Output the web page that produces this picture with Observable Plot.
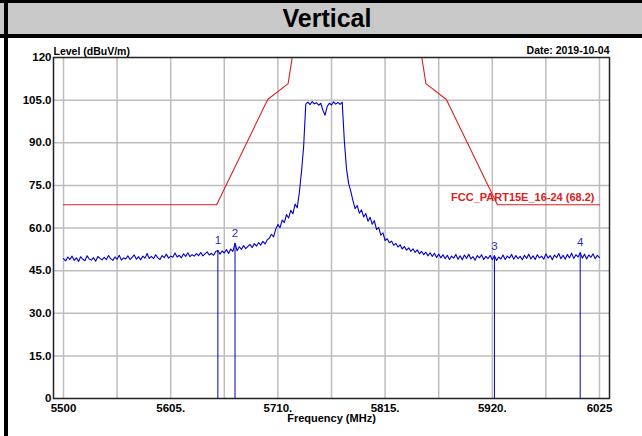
<!DOCTYPE html>
<html><head><meta charset="utf-8">
<script src="https://cdn.jsdelivr.net/npm/d3@7"></script>
<script src="https://cdn.jsdelivr.net/npm/@observablehq/plot@0.6"></script>
<style>
html,body{margin:0;padding:0;background:#fff;}
#wrap{position:relative;width:642px;height:436px;overflow:hidden;font-family:"Liberation Sans",Arial,sans-serif;}
#title{box-sizing:border-box;height:38px;border-top:3px solid #000;border-bottom:4px solid #000;background:#c8c8c8;text-align:center;font-weight:bold;font-size:25px;line-height:31px;color:#000;padding-left:12px;}
#bar{position:absolute;left:4px;top:0;width:4px;height:436px;background:#000;}
#chart svg{display:block;}
</style></head><body>
<div id="wrap"><div id="title">Vertical</div><div id="chart"></div><div id="bar"></div></div>
<script>
// Measured trace (dBuV/m), sampled every 2.1 MHz from 5500 MHz
const freqStart = 5500, freqStep = 2.1;
const level = [
49.2,48.4,49.8,48.9,50.1,48.6,49.5,48.2,49.9,49.0,
48.5,50.2,49.1,48.7,49.6,48.3,50.0,49.3,48.8,49.7,
48.9,50.3,49.2,48.6,49.8,49.0,50.4,48.7,49.5,49.1,
50.2,48.9,49.7,50.5,49.0,49.9,48.8,50.1,49.4,51.0,
49.3,50.0,49.2,50.6,49.5,48.9,50.3,49.6,50.8,49.4,
50.1,49.7,51.2,49.8,50.4,49.5,50.9,50.0,51.3,49.9,
50.6,50.1,51.0,50.3,51.4,50.2,50.9,51.6,50.5,51.1,
50.4,51.7,52.1,50.8,51.9,51.2,52.4,51.0,52.6,51.8,
54.6,52.0,53.4,52.5,53.8,52.7,53.5,54.2,53.1,54.5,
53.6,54.9,54.0,55.3,54.4,55.8,56.4,57.8,56.9,59.6,
61.2,60.1,62.8,61.9,64.7,63.5,66.2,65.0,68.4,67.1,
72.5,79.8,88.5,103.6,104.3,103.4,104.5,103.7,104.1,103.2,
103.9,101.4,99.7,102.8,103.9,103.3,104.4,103.6,104.2,103.5,
104.3,90.5,80.8,75.6,72.9,69.6,66.8,67.9,65.2,66.4,
63.9,65.1,62.4,63.8,61.3,62.6,59.4,60.2,57.5,58.3,
55.6,56.2,54.8,55.4,53.9,54.6,53.3,54.1,52.6,53.5,
52.2,53.0,51.8,52.7,51.4,52.3,50.9,51.8,50.6,51.5,
50.2,51.3,50.0,51.1,49.6,50.8,49.5,50.6,49.2,50.4,
48.9,50.1,49.4,50.7,49.0,50.2,48.8,50.5,49.3,50.8,
49.1,49.9,48.7,50.3,49.5,50.6,48.9,50.0,49.2,50.4,
48.8,50.2,48.6,49.8,49.1,50.5,48.9,50.1,49.4,50.7,
49.0,50.3,49.2,50.0,48.8,50.4,49.3,50.8,49.1,50.2,
48.9,50.6,49.5,50.1,49.0,50.9,49.4,50.3,48.8,50.5,
49.6,51.0,49.2,50.4,49.0,50.7,49.5,51.1,49.3,50.6,
49.8,51.3,49.4,50.8,49.1,50.5,49.7,50.9,49.2,50.4,
49.6
];
// Limit line FCC_PART15E_16-24
const limitFreq  = [5500, 5650, 5700, 5720, 5725, 5850, 5855, 5875, 5925, 6025];
const limitLevel = [68.2, 68.2, 105.2, 110.8, 122.2, 122.2, 110.8, 105.2, 68.2, 68.2];
const limitName = "FCC_PART15E_16-24 (68.2)";
// Markers
const markerIds   = ["1", "2", "3", "4"];
const markerFreq  = [5651.2, 5668.0, 5922.1, 6006.1];
const markerLevel = [52.1, 54.6, 50.2, 51.3];
// Axes
const xTicks = [5500, 5605, 5710, 5815, 5920, 6025];
const xTickLabels = ["5500", "5605.", "5710.", "5815.", "5920.", "6025"];
const yTicks = [0, 15, 30, 45, 60, 75, 90, 105, 120];
const yTickLabels = ["0", "15.0", "30.0", "45.0", "60.0", "75.0", "90.0", "105.0", "120"];
const gridFreqs = [5500, 5552.5, 5605, 5657.5, 5710, 5762.5, 5815, 5867.5, 5920, 5972.5, 6025];
const gridLevels = [15, 30, 45, 60, 75, 90, 105];
const yLabel = "Level (dBuV/m)";
const dateLabel = "Date: 2019-10-04";
const xLabel = "Frequency (MHz)";

const trace = level.map((v, i) => ({freq: freqStart + i * freqStep, level: v}));
const limit = limitFreq.map((f, i) => ({freq: f, level: limitLevel[i]}));
const markers = markerFreq.map((f, i) => ({id: markerIds[i], freq: f, level: markerLevel[i]}));

const font = "'Liberation Sans', Arial, sans-serif";
const blue = "#0000cc", red = "#dd2020";

const chart = Plot.plot({
  width: 642, height: 398,
  marginLeft: 53, marginRight: 33, marginTop: 19, marginBottom: 38,
  x: {domain: [5490.2, 6034.8]},
  y: {domain: [0, 120]},
  style: {fontFamily: font, background: "transparent", color: "#000"},
  marks: [
    Plot.ruleX(gridFreqs, {stroke: "#bdbdbd", strokeWidth: 1.5}),
    Plot.ruleY(gridLevels, {stroke: "#bdbdbd", strokeWidth: 1.5}),
    Plot.line(limit, {x: "freq", y: "level", stroke: red, strokeWidth: 1.1, clip: true}),
    Plot.line(trace, {x: "freq", y: "level", stroke: blue, strokeWidth: 1.1, clip: true}),
    Plot.ruleX(markers, {x: "freq", y1: 0, y2: "level", stroke: blue, strokeWidth: 1}),
    Plot.text(markers, {x: "freq", y: "level", text: "id", dy: -10, fill: "#2a2acc", fontSize: 11.5}),
    Plot.text([limitName], {x: 6025, y: 68.2, text: d => d, textAnchor: "end", dx: -5, dy: -7, fill: red, fontWeight: "bold", fontSize: 11}),
    Plot.frame({stroke: "#222", strokeWidth: 1.5}),
    Plot.axisX({ticks: xTicks, tickFormat: d => xTickLabels[xTicks.indexOf(d)], tickSize: 0, tickPadding: 5.5, fontWeight: "bold", fontSize: 11.5, label: null}),
    Plot.axisY({ticks: yTicks, tickFormat: d => yTickLabels[yTicks.indexOf(d)], tickSize: 0, tickPadding: 2, fontWeight: "bold", fontSize: 11.5, label: null}),
    Plot.text([yLabel], {text: d => d, frameAnchor: "top-left", textAnchor: "start", dy: -10, fontWeight: "bold", fontSize: 10.5}),
    Plot.text([dateLabel], {text: d => d, frameAnchor: "top-right", textAnchor: "end", dy: -11, fontWeight: "bold", fontSize: 10.5}),
    Plot.text([xLabel], {text: d => d, frameAnchor: "bottom", dy: 23, fontWeight: "bold", fontSize: 11})
  ]
});
document.getElementById("chart").appendChild(chart);
</script>
</body></html>
